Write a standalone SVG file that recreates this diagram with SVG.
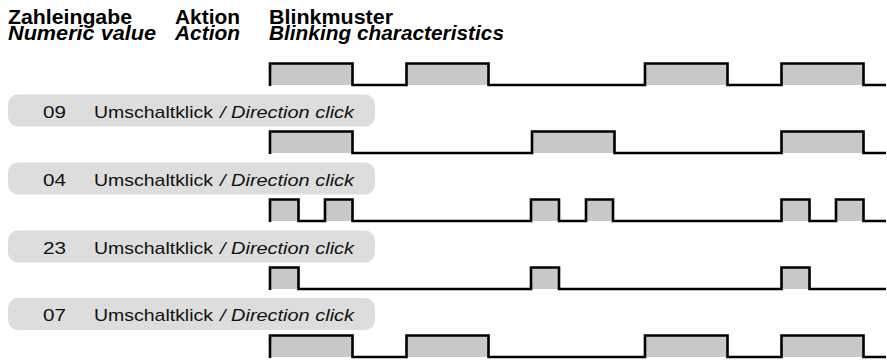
<svg xmlns="http://www.w3.org/2000/svg" width="887" height="361" viewBox="0 0 887 361">
<style>
.h{font-family:"Liberation Sans",Arial,sans-serif;font-size:20px;font-weight:bold;fill:#000}
.hi{font-style:italic}
.t{font-family:"Liberation Sans",Arial,sans-serif;font-size:17px;fill:#111}
.ti{font-style:italic}
.lab{fill:#dddddd}
.p{fill:#c8c8c8}
.w{fill:none;stroke:#000;stroke-width:2.6;stroke-linejoin:miter}
</style>
<rect width="887" height="361" fill="#fff"/>
<g id="header">
<text class="h" x="8" y="24" textLength="124" lengthAdjust="spacingAndGlyphs">Zahleingabe</text>
<text class="h hi" x="8" y="40" textLength="148" lengthAdjust="spacingAndGlyphs">Numeric value</text>
<text class="h" x="175" y="24" textLength="65" lengthAdjust="spacingAndGlyphs">Aktion</text>
<text class="h hi" x="175" y="40" textLength="65" lengthAdjust="spacingAndGlyphs">Action</text>
<text class="h" x="269" y="24" textLength="124" lengthAdjust="spacingAndGlyphs">Blinkmuster</text>
<text class="h hi" x="269" y="40" textLength="235" lengthAdjust="spacingAndGlyphs">Blinking characteristics</text>
</g>
<g id="wave1">
<rect class="p" x="270" y="63.5" width="82.5" height="21.5"/>
<rect class="p" x="406.5" y="63.5" width="82" height="21.5"/>
<rect class="p" x="645" y="63.5" width="82.5" height="21.5"/>
<rect class="p" x="781.5" y="63.5" width="82" height="21.5"/>
<path class="w" d="M270,86V63.5H352.5V85H406.5V63.5H488.5V85H645V63.5H727.5V85H781.5V63.5H863.5V85H886"/>
</g>
<g id="row09">
<rect class="lab" x="8" y="94.5" width="367" height="32" rx="10"/>
<text class="t" x="43" y="117.5" textLength="23" lengthAdjust="spacingAndGlyphs">09</text>
<text class="t" x="94" y="117.5" textLength="119" lengthAdjust="spacingAndGlyphs">Umschaltklick</text>
<text class="t ti" x="220" y="117.5" textLength="134" lengthAdjust="spacingAndGlyphs">/ Direction click</text>
</g>
<g id="wave2">
<rect class="p" x="270" y="131.5" width="82.5" height="21.5"/>
<rect class="p" x="532" y="131.5" width="82.5" height="21.5"/>
<rect class="p" x="781.5" y="131.5" width="82" height="21.5"/>
<path class="w" d="M270,154V131.5H352.5V153H532V131.5H614.5V153H781.5V131.5H863.5V153H886"/>
</g>
<g id="row04">
<rect class="lab" x="8" y="162.5" width="367" height="32" rx="10"/>
<text class="t" x="43" y="185.5" textLength="23" lengthAdjust="spacingAndGlyphs">04</text>
<text class="t" x="94" y="185.5" textLength="119" lengthAdjust="spacingAndGlyphs">Umschaltklick</text>
<text class="t ti" x="220" y="185.5" textLength="134" lengthAdjust="spacingAndGlyphs">/ Direction click</text>
</g>
<g id="wave3">
<rect class="p" x="270" y="199.5" width="28.5" height="21.5"/>
<rect class="p" x="325" y="199.5" width="27.5" height="21.5"/>
<rect class="p" x="531" y="199.5" width="28" height="21.5"/>
<rect class="p" x="586" y="199.5" width="27" height="21.5"/>
<rect class="p" x="781.5" y="199.5" width="28" height="21.5"/>
<rect class="p" x="836" y="199.5" width="27.5" height="21.5"/>
<path class="w" d="M270,222V199.5H298.5V221H325V199.5H352.5V221H531V199.5H559V221H586V199.5H613V221H781.5V199.5H809.5V221H836V199.5H863.5V221H886"/>
</g>
<g id="row23">
<rect class="lab" x="8" y="230.5" width="367" height="32" rx="10"/>
<text class="t" x="43" y="253.5" textLength="23" lengthAdjust="spacingAndGlyphs">23</text>
<text class="t" x="94" y="253.5" textLength="119" lengthAdjust="spacingAndGlyphs">Umschaltklick</text>
<text class="t ti" x="220" y="253.5" textLength="134" lengthAdjust="spacingAndGlyphs">/ Direction click</text>
</g>
<g id="wave4">
<rect class="p" x="270" y="267.5" width="28.5" height="21.5"/>
<rect class="p" x="531" y="267.5" width="28" height="21.5"/>
<rect class="p" x="781.5" y="267.5" width="28" height="21.5"/>
<path class="w" d="M270,290V267.5H298.5V289H531V267.5H559V289H781.5V267.5H809.5V289H886"/>
</g>
<g id="row07">
<rect class="lab" x="8" y="298" width="367" height="32" rx="10"/>
<text class="t" x="43" y="321" textLength="23" lengthAdjust="spacingAndGlyphs">07</text>
<text class="t" x="94" y="321" textLength="119" lengthAdjust="spacingAndGlyphs">Umschaltklick</text>
<text class="t ti" x="220" y="321" textLength="134" lengthAdjust="spacingAndGlyphs">/ Direction click</text>
</g>
<g id="wave5">
<rect class="p" x="270" y="335.5" width="82.5" height="21.5"/>
<rect class="p" x="406.5" y="335.5" width="82" height="21.5"/>
<rect class="p" x="645" y="335.5" width="82.5" height="21.5"/>
<rect class="p" x="781.5" y="335.5" width="82" height="21.5"/>
<path class="w" d="M270,358V335.5H352.5V357H406.5V335.5H488.5V357H645V335.5H727.5V357H781.5V335.5H863.5V357H886"/>
</g>
<g id="connectors"/>
</svg>
